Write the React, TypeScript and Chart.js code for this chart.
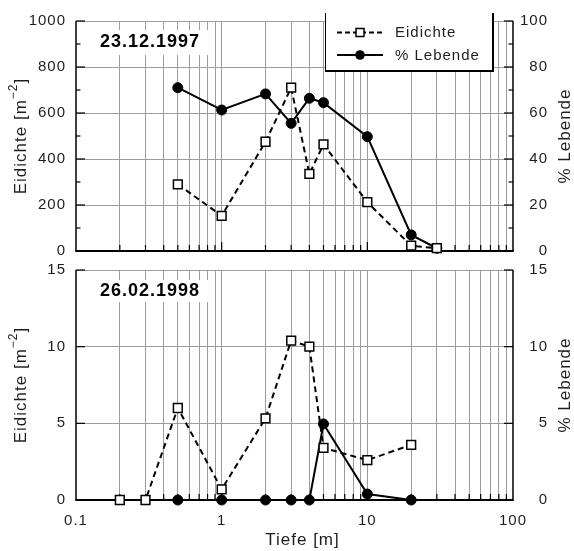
import React, { useEffect, useRef } from 'react';
import { Chart, registerables } from 'chart.js';

Chart.register(...registerables);

const FONT = "'Liberation Sans', Arial, Helvetica, sans-serif";
const TEXT = '#1e1e1e';
const GRID = '#9c9c9c';
const CLEAR = 'rgba(0,0,0,0)';

// x axis (depth, log)
const DEPTH_TICKS = [0.1, 0.2, 0.3, 0.4, 0.5, 0.6, 0.7, 0.8, 0.9, 1, 2, 3, 4, 5, 6, 7, 8, 9, 10, 20, 30, 40, 50, 60, 70, 80, 90, 100];
const DEPTH_MAJOR = [0.1, 1, 10, 100];
const DEPTH_LABELS = ['0.1', '1', '10', '100'];

// top panel: 23.12.1997
const TOP_EI_DEPTH = [0.5, 1, 2, 3, 4, 5, 10, 20, 30];
const TOP_EIDICHTE = [290, 153, 475, 710, 335, 464, 212, 23, 12];
const TOP_LEB_DEPTH = [0.5, 1, 2, 3, 4, 5, 10, 20, 30];
const TOP_LEBENDE = [71, 61.3, 68.3, 55.5, 66.4, 64.5, 49.7, 7, 1.2];

// bottom panel: 26.02.1998
const BOT_EI_DEPTH = [0.2, 0.3, 0.5, 1, 2, 3, 4, 5, 10, 20];
const BOT_EIDICHTE = [0, 0, 6.0, 0.7, 5.33, 10.4, 10.0, 3.4, 2.6, 3.6];
const BOT_LEB_DEPTH = [0.5, 1, 2, 3, 4, 5, 10, 20];
const BOT_LEBENDE = [0, 0, 0, 0, 0, 4.96, 0.39, 0];

// y tick values
const TOP_LEFT_TICKS = [0, 200, 400, 600, 800, 1000];
const TOP_LEFT_MINOR = [100, 300, 500, 700, 900];
const TOP_RIGHT_TICKS = [0, 20, 40, 60, 80, 100];
const TOP_RIGHT_MINOR = [10, 30, 50, 70, 90];
const BOT_LEFT_TICKS = [0, 5, 10, 15];
const BOT_RIGHT_TICKS = [0, 5, 10, 15];

const TOP_DATE = '23.12.1997';
const BOT_DATE = '26.02.1998';
const SERIES_NAMES = ['Eidichte', '% Lebende'];
const Y_LEFT_TITLE = ['Eidichte [m', '\u22122', ']'];
const Y_RIGHT_TITLE = '% Lebende';
const X_TITLE = 'Tiefe [m]';

Chart.defaults.font.family = FONT;

type Spec = {
  eiDepth: number[]; ei: number[]; lebDepth: number[]; leb: number[];
  leftMax: number; rightMax: number;
  leftTicks: number[]; leftMinor: number[]; rightTicks: number[]; rightMinor: number[];
  date: string; dateBox: [number, number, number, number]; dateY: number;
  padTop: number; xHeight: number; showX: boolean; legend: boolean; xTitle: boolean;
};

function setSpacing(chart: any) {
  try { (chart.ctx as any).letterSpacing = '1px'; } catch (e) { /* ignore */ }
}

function decor(s: Spec) {
  return {
    id: 'panelDecor',
    beforeUpdate(chart: any) { setSpacing(chart); },
    beforeDraw(chart: any) { setSpacing(chart); },
    beforeDatasetsDraw(chart: any) {
      const { ctx, chartArea: a, scales } = chart;
      ctx.save();
      ctx.strokeStyle = '#000';
      ctx.lineWidth = 1.2;
      const seg = (x1: number, y1: number, x2: number, y2: number) => {
        ctx.beginPath(); ctx.moveTo(x1, y1); ctx.lineTo(x2, y2); ctx.stroke();
      };
      s.leftTicks.forEach(v => { const y = scales.y.getPixelForValue(v); seg(a.left, y, a.left + 9, y); });
      s.leftMinor.forEach(v => { const y = scales.y.getPixelForValue(v); seg(a.left, y, a.left + 4.5, y); });
      s.rightTicks.forEach(v => { const y = scales.y2.getPixelForValue(v); seg(a.right - 9, y, a.right, y); });
      s.rightMinor.forEach(v => { const y = scales.y2.getPixelForValue(v); seg(a.right - 4.5, y, a.right, y); });
      DEPTH_TICKS.forEach(v => {
        if (v === 0.1 || v === 100) return;
        const x = scales.x.getPixelForValue(v);
        const len = DEPTH_MAJOR.includes(v) ? 9 : 6;
        seg(x, a.bottom, x, a.bottom - len);
      });
      ctx.lineWidth = 1.5;
      seg(a.left, a.top, a.left, a.bottom);
      seg(a.right, a.top, a.right, a.bottom);
      ctx.lineWidth = 2;
      seg(a.left - 0.75, a.bottom, a.right + 0.75, a.bottom);
      ctx.restore();
    },
    afterDraw(chart: any) {
      const { ctx, chartArea: a, scales } = chart;
      setSpacing(chart);
      ctx.save();
      // right tick labels
      ctx.fillStyle = TEXT;
      ctx.font = `15px ${FONT}`;
      ctx.textAlign = 'right';
      ctx.textBaseline = 'middle';
      s.rightTicks.forEach(v => {
        ctx.fillText(String(v), 548, scales.y2.getPixelForValue(v));
      });
      // date label
      const [bx, by, bw, bh] = s.dateBox;
      ctx.fillStyle = '#fff';
      ctx.fillRect(bx, by, bw, bh);
      ctx.fillStyle = '#000';
      ctx.font = `bold 18px ${FONT}`;
      ctx.textAlign = 'left';
      ctx.textBaseline = 'middle';
      ctx.fillText(s.date, 100, s.dateY);
      // left title with superscript
      const cy = (a.top + a.bottom) / 2;
      ctx.save();
      ctx.translate(25.5, cy);
      ctx.rotate(-Math.PI / 2);
      ctx.fillStyle = TEXT;
      ctx.textAlign = 'left';
      ctx.textBaseline = 'alphabetic';
      ctx.font = `17px ${FONT}`;
      const w1 = ctx.measureText(Y_LEFT_TITLE[0]).width;
      const w3 = ctx.measureText(Y_LEFT_TITLE[2]).width;
      ctx.font = `12px ${FONT}`;
      const w2 = ctx.measureText(Y_LEFT_TITLE[1]).width;
      let x = -(w1 + w2 + w3) / 2;
      ctx.font = `17px ${FONT}`;
      ctx.fillText(Y_LEFT_TITLE[0], x, 0);
      x += w1;
      ctx.font = `12px ${FONT}`;
      ctx.fillText(Y_LEFT_TITLE[1], x, -9);
      x += w2;
      ctx.font = `17px ${FONT}`;
      ctx.fillText(Y_LEFT_TITLE[2], x, 0);
      ctx.restore();
      // right title
      ctx.save();
      ctx.translate(569.5, cy);
      ctx.rotate(-Math.PI / 2);
      ctx.fillStyle = TEXT;
      ctx.font = `17px ${FONT}`;
      ctx.textAlign = 'center';
      ctx.textBaseline = 'alphabetic';
      ctx.fillText(Y_RIGHT_TITLE, 0, 0);
      ctx.restore();
      // x title
      if (s.xTitle) {
        ctx.fillStyle = TEXT;
        ctx.font = `17px ${FONT}`;
        ctx.textAlign = 'center';
        ctx.textBaseline = 'alphabetic';
        ctx.fillText(X_TITLE, 302.5, 283);
      }
      // legend
      if (s.legend) {
        ctx.fillStyle = '#fff';
        ctx.fillRect(325, 0, 168, 71);
        ctx.strokeStyle = '#000';
        ctx.lineWidth = 1;
        ctx.beginPath(); ctx.moveTo(325.5, 13); ctx.lineTo(325.5, 71); ctx.stroke();
        ctx.lineWidth = 2;
        ctx.beginPath(); ctx.moveTo(493, 13); ctx.lineTo(493, 71); ctx.stroke();
        ctx.beginPath(); ctx.moveTo(325, 71); ctx.lineTo(494, 71); ctx.stroke();
        // entry 1
        ctx.lineWidth = 2;
        ctx.setLineDash([5, 3]);
        ctx.beginPath(); ctx.moveTo(337, 32.5); ctx.lineTo(383, 32.5); ctx.stroke();
        ctx.setLineDash([]);
        ctx.fillStyle = '#fff';
        ctx.lineWidth = 1.5;
        ctx.fillRect(356, 28.5, 8, 8);
        ctx.strokeRect(356, 28.5, 8, 8);
        // entry 2
        ctx.lineWidth = 2;
        ctx.beginPath(); ctx.moveTo(337, 55); ctx.lineTo(383, 55); ctx.stroke();
        ctx.fillStyle = '#000';
        ctx.beginPath(); ctx.arc(360, 55, 4.8, 0, Math.PI * 2); ctx.fill();
        ctx.fillStyle = TEXT;
        ctx.font = `15px ${FONT}`;
        ctx.textAlign = 'left';
        ctx.textBaseline = 'middle';
        ctx.fillText(SERIES_NAMES[0], 395, 32.5);
        ctx.fillText(SERIES_NAMES[1], 395, 55.5);
      }
      ctx.restore();
    },
  };
}

function buildConfig(s: Spec): any {
  return {
    type: 'line',
    data: {
      datasets: [
        {
          label: SERIES_NAMES[0],
          data: s.eiDepth.map((d, i) => ({ x: d, y: s.ei[i] })),
          yAxisID: 'y',
          borderColor: '#000',
          borderWidth: 2,
          borderDash: [6, 4],
          pointStyle: 'rect',
          pointRadius: 6.2,
          pointBorderWidth: 1.5,
          pointBackgroundColor: '#fff',
          pointBorderColor: '#000',
          tension: 0,
          clip: false,
        },
        {
          label: SERIES_NAMES[1],
          data: s.lebDepth.map((d, i) => ({ x: d, y: s.leb[i] })),
          yAxisID: 'y2',
          borderColor: '#000',
          borderWidth: 2,
          pointStyle: 'circle',
          pointRadius: 5,
          pointBorderWidth: 1,
          pointBackgroundColor: '#000',
          pointBorderColor: '#000',
          tension: 0,
          clip: false,
        },
      ],
    },
    options: {
      animation: false,
      responsive: false,
      devicePixelRatio: 1,
      events: [],
      layout: { padding: { top: s.padTop, left: 0, right: 0, bottom: 0 } },
      plugins: { legend: { display: false }, tooltip: { enabled: false }, title: { display: false } },
      scales: {
        x: {
          type: 'logarithmic',
          position: 'bottom',
          min: 0.1,
          max: 100,
          afterBuildTicks: (sc: any) => { sc.ticks = DEPTH_TICKS.map(v => ({ value: v })); },
          afterFit: (sc: any) => { sc.height = s.xHeight; sc.paddingLeft = 0; sc.paddingRight = 0; },
          grid: {
            color: (c: any) => (c.tick && (c.tick.value === 0.1 || c.tick.value === 100)) ? CLEAR : GRID,
            lineWidth: 1,
            drawTicks: false,
          },
          border: { display: false },
          ticks: {
            display: s.showX,
            autoSkip: false,
            maxRotation: 0,
            minRotation: 0,
            padding: 12,
            color: TEXT,
            font: { size: 15, family: FONT },
            callback: (v: any) => { const i = DEPTH_MAJOR.indexOf(v); return i >= 0 ? DEPTH_LABELS[i] : ''; },
          },
        },
        y: {
          type: 'linear',
          position: 'left',
          min: 0,
          max: s.leftMax,
          afterBuildTicks: (sc: any) => { sc.ticks = s.leftTicks.map(v => ({ value: v })); },
          afterFit: (sc: any) => { sc.width = 76; sc.paddingTop = 0; sc.paddingBottom = 0; },
          grid: {
            color: (c: any) => (c.tick && c.tick.value === 0) ? CLEAR : GRID,
            lineWidth: 1,
            drawTicks: false,
          },
          border: { display: false },
          ticks: {
            padding: 10,
            color: TEXT,
            font: { size: 15, family: FONT },
            callback: (v: any) => String(v),
          },
        },
        y2: {
          type: 'linear',
          position: 'right',
          min: 0,
          max: s.rightMax,
          afterBuildTicks: (sc: any) => { sc.ticks = s.rightTicks.map(v => ({ value: v })); },
          afterFit: (sc: any) => { sc.width = 61; sc.paddingTop = 0; sc.paddingBottom = 0; },
          grid: { display: false, drawTicks: false },
          border: { display: false },
          ticks: { display: false },
        },
      },
    },
    plugins: [decor(s)],
  };
}

const TOP_SPEC: Spec = {
  eiDepth: TOP_EI_DEPTH, ei: TOP_EIDICHTE, lebDepth: TOP_LEB_DEPTH, leb: TOP_LEBENDE,
  leftMax: 1000, rightMax: 100,
  leftTicks: TOP_LEFT_TICKS, leftMinor: TOP_LEFT_MINOR, rightTicks: TOP_RIGHT_TICKS, rightMinor: TOP_RIGHT_MINOR,
  date: TOP_DATE, dateBox: [96, 30, 116, 25], dateY: 42.5,
  padTop: 21, xHeight: 11, showX: false, legend: true, xTitle: false,
};

const BOT_SPEC: Spec = {
  eiDepth: BOT_EI_DEPTH, ei: BOT_EIDICHTE, lebDepth: BOT_LEB_DEPTH, leb: BOT_LEBENDE,
  leftMax: 15, rightMax: 15,
  leftTicks: BOT_LEFT_TICKS, leftMinor: [], rightTicks: BOT_RIGHT_TICKS, rightMinor: [],
  date: BOT_DATE, dateBox: [96, 18, 116, 22], dateY: 29,
  padTop: 8, xHeight: 51, showX: true, legend: false, xTitle: true,
};

function Panel({ spec, top, height }: { spec: Spec; top: number; height: number }) {
  const ref = useRef<HTMLCanvasElement>(null);
  useEffect(() => {
    const chart = new Chart(ref.current as HTMLCanvasElement, buildConfig(spec));
    return () => chart.destroy();
  }, [spec]);
  return (
    <canvas
      ref={ref}
      width={574}
      height={height}
      style={{ position: 'absolute', left: 0, top, width: 574, height, display: 'block' }}
    />
  );
}

export default function App() {
  return (
    <div style={{ position: 'absolute', left: 0, top: 0, width: 574, height: 551, background: '#fff', overflow: 'hidden' }}>
      <Panel spec={TOP_SPEC} top={0} height={262} />
      <Panel spec={BOT_SPEC} top={262} height={289} />
    </div>
  );
}
